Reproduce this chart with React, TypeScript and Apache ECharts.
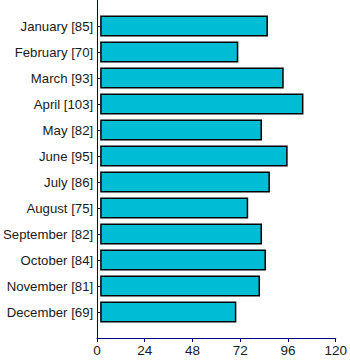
import React, { useEffect, useRef } from "react";
import * as echarts from "echarts";

const months = ["January", "February", "March", "April", "May", "June", "July", "August", "September", "October", "November", "December"];
const values = [85, 70, 93, 103, 82, 95, 86, 75, 82, 84, 81, 69];
const xTicks = { min: 0, max: 120, interval: 24 };

export default function App() {
  const ref = useRef<HTMLDivElement>(null);
  useEffect(() => {
    const chart = echarts.init(ref.current!, null, { renderer: "svg" });
    const axisColor = "#000080";
    const font = "Liberation Sans, Arial, sans-serif";
    chart.setOption({
      animation: false,
      grid: [
        { left: 97, right: 13, top: 0, bottom: 26 },
        { left: 97, right: 13, top: 13, height: 312 },
      ],
      xAxis: [
        {
          gridIndex: 0,
          type: "value",
          min: xTicks.min,
          max: xTicks.max,
          interval: xTicks.interval,
          axisLine: { show: true, lineStyle: { color: axisColor, width: 1 } },
          axisTick: { show: true, length: 4, lineStyle: { color: axisColor } },
          axisLabel: { color: "#1a1a1a", fontSize: 13.5, fontFamily: font, margin: 5 },
          splitLine: { show: false },
        },
        {
          gridIndex: 1,
          type: "value",
          min: xTicks.min,
          max: xTicks.max,
          show: false,
        },
      ],
      yAxis: [
        {
          gridIndex: 0,
          type: "value",
          axisLine: { show: true, lineStyle: { color: axisColor, width: 1 } },
          axisTick: { show: false },
          axisLabel: { show: false },
          splitLine: { show: false },
        },
        {
          gridIndex: 1,
          type: "category",
          inverse: true,
          data: months,
          axisLine: { show: false },
          axisTick: { show: true, length: 3, alignWithLabel: true, lineStyle: { color: axisColor } },
          axisLabel: {
            color: "#1a1a1a",
            fontSize: 13.2,
            fontFamily: font,
            margin: 7,
            formatter: (v: string, i: number) => `${v} [${values[i]}]`,
          },
          splitLine: { show: false },
        },
      ],
      series: [
        {
          type: "bar",
          xAxisIndex: 1,
          yAxisIndex: 1,
          data: values,
          barWidth: 21,
          itemStyle: { color: "#00BCD4", borderColor: "#000", borderWidth: 1.5 },
        },
      ],
    });
    return () => chart.dispose();
  }, []);
  return <div ref={ref} style={{ width: 350, height: 364, position: "absolute", left: 0, top: 0 }} />;
}
